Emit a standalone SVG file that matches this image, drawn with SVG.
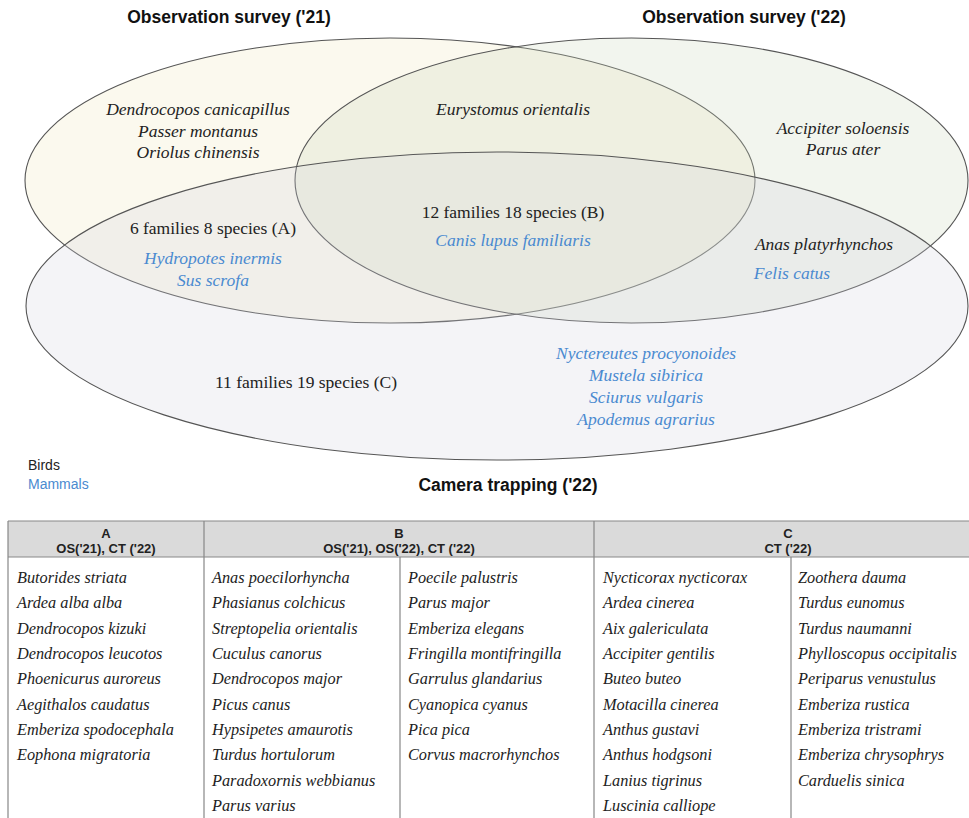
<svg xmlns="http://www.w3.org/2000/svg" width="969" height="818" viewBox="0 0 969 818">
<style>
.ell{stroke:#555;stroke-width:1.1}
.title{font-family:"Liberation Sans",Arial,sans-serif;font-weight:bold;font-size:17.5px;fill:#111;text-anchor:middle}
.sp{font-family:"Liberation Serif","Times New Roman",serif;font-style:italic;font-size:17.5px;fill:#222;text-anchor:middle}
.cnt{font-family:"Liberation Serif","Times New Roman",serif;font-size:17.5px;fill:#222;text-anchor:middle}
.leg{font-family:"Liberation Sans",Arial,sans-serif;font-size:14px;fill:#222}
.mam{fill:#4a8ad0}
.th{font-family:"Liberation Sans",Arial,sans-serif;font-weight:bold;font-size:13px;fill:#222;text-anchor:middle}
.td{font-family:"Liberation Serif","Times New Roman",serif;font-style:italic;font-size:16.3px;fill:#222}
.grid{stroke:#888;stroke-width:1.2;fill:none}
</style>
<rect width="969" height="818" fill="#fff"/>
<g id="venn">
  <g id="os21"><ellipse class="ell" cx="390" cy="180.5" rx="365" ry="142.5" fill="#efe7bb" fill-opacity="0.25"/></g>
  <g id="os22"><ellipse class="ell" cx="631.5" cy="180.5" rx="336.5" ry="142.5" fill="#cbd7bb" fill-opacity="0.25"/></g>
  <g id="ct22"><ellipse class="ell" cx="497" cy="306" rx="471" ry="154" fill="#d3d3df" fill-opacity="0.25"/></g>
</g>
<g id="titles">
  <text class="title" x="229" y="23">Observation survey ('21)</text>
  <text class="title" x="744" y="23">Observation survey ('22)</text>
  <text class="title" x="508" y="491">Camera trapping ('22)</text>
</g>
<g id="labels">
  <text class="sp" x="198" y="115">Dendrocopos canicapillus</text>
  <text class="sp" x="198" y="137">Passer montanus</text>
  <text class="sp" x="198" y="158">Oriolus chinensis</text>
  <text class="sp" x="513" y="115">Eurystomus orientalis</text>
  <text class="sp" x="843" y="134">Accipiter soloensis</text>
  <text class="sp" x="843" y="155">Parus ater</text>
  <text class="cnt" x="213" y="234">6 families 8 species (A)</text>
  <text class="sp mam" x="213" y="264">Hydropotes inermis</text>
  <text class="sp mam" x="213" y="286">Sus scrofa</text>
  <text class="cnt" x="513" y="218">12 families 18 species (B)</text>
  <text class="sp mam" x="513" y="246">Canis lupus familiaris</text>
  <text class="sp" x="824" y="250">Anas platyrhynchos</text>
  <text class="sp mam" x="792" y="279">Felis catus</text>
  <text class="cnt" x="306" y="388">11 families 19 species (C)</text>
  <text class="sp mam" x="646" y="359">Nyctereutes procyonoides</text>
  <text class="sp mam" x="646" y="381">Mustela sibirica</text>
  <text class="sp mam" x="646" y="403">Sciurus vulgaris</text>
  <text class="sp mam" x="646" y="425">Apodemus agrarius</text>
</g>
<g id="legend">
  <text class="leg" x="28" y="470">Birds</text>
  <text class="leg mam" x="28" y="489">Mammals</text>
</g>
<g id="table">
  <rect x="8" y="521" width="980" height="36" fill="#dadada"/>
  <path class="grid" d="M8 521H990M8 557H990M8 521V820M204 521V820M594 521V820M400 557V820M791 557V820"/>
  <text class="th" x="106" y="538">A</text>
  <text class="th" x="106" y="552.5">OS('21), CT ('22)</text>
  <text class="th" x="399" y="538">B</text>
  <text class="th" x="399" y="552.5">OS('21), OS('22), CT ('22)</text>
  <text class="th" x="788" y="538">C</text>
  <text class="th" x="788" y="552.5">CT ('22)</text>
  <g id="colA">
    <text class="td" x="17" y="583">Butorides striata</text>
    <text class="td" x="17" y="608">Ardea alba alba</text>
    <text class="td" x="17" y="633.5">Dendrocopos kizuki</text>
    <text class="td" x="17" y="659">Dendrocopos leucotos</text>
    <text class="td" x="17" y="684">Phoenicurus auroreus</text>
    <text class="td" x="17" y="709.5">Aegithalos caudatus</text>
    <text class="td" x="17" y="735">Emberiza spodocephala</text>
    <text class="td" x="17" y="760">Eophona migratoria</text>
  </g>
  <g id="colB1">
    <text class="td" x="212" y="583">Anas poecilorhyncha</text>
    <text class="td" x="212" y="608">Phasianus colchicus</text>
    <text class="td" x="212" y="633.5">Streptopelia orientalis</text>
    <text class="td" x="212" y="659">Cuculus canorus</text>
    <text class="td" x="212" y="684">Dendrocopos major</text>
    <text class="td" x="212" y="709.5">Picus canus</text>
    <text class="td" x="212" y="735">Hypsipetes amaurotis</text>
    <text class="td" x="212" y="760">Turdus hortulorum</text>
    <text class="td" x="212" y="785.5">Paradoxornis webbianus</text>
    <text class="td" x="212" y="811">Parus varius</text>
  </g>
  <g id="colB2">
    <text class="td" x="408" y="583">Poecile palustris</text>
    <text class="td" x="408" y="608">Parus major</text>
    <text class="td" x="408" y="633.5">Emberiza elegans</text>
    <text class="td" x="408" y="659">Fringilla montifringilla</text>
    <text class="td" x="408" y="684">Garrulus glandarius</text>
    <text class="td" x="408" y="709.5">Cyanopica cyanus</text>
    <text class="td" x="408" y="735">Pica pica</text>
    <text class="td" x="408" y="760">Corvus macrorhynchos</text>
  </g>
  <g id="colC1">
    <text class="td" x="603" y="583">Nycticorax nycticorax</text>
    <text class="td" x="603" y="608">Ardea cinerea</text>
    <text class="td" x="603" y="633.5">Aix galericulata</text>
    <text class="td" x="603" y="659">Accipiter gentilis</text>
    <text class="td" x="603" y="684">Buteo buteo</text>
    <text class="td" x="603" y="709.5">Motacilla cinerea</text>
    <text class="td" x="603" y="735">Anthus gustavi</text>
    <text class="td" x="603" y="760">Anthus hodgsoni</text>
    <text class="td" x="603" y="785.5">Lanius tigrinus</text>
    <text class="td" x="603" y="811">Luscinia calliope</text>
  </g>
  <g id="colC2">
    <text class="td" x="798" y="583">Zoothera dauma</text>
    <text class="td" x="798" y="608">Turdus eunomus</text>
    <text class="td" x="798" y="633.5">Turdus naumanni</text>
    <text class="td" x="798" y="659">Phylloscopus occipitalis</text>
    <text class="td" x="798" y="684">Periparus venustulus</text>
    <text class="td" x="798" y="709.5">Emberiza rustica</text>
    <text class="td" x="798" y="735">Emberiza tristrami</text>
    <text class="td" x="798" y="760">Emberiza chrysophrys</text>
    <text class="td" x="798" y="785.5">Carduelis sinica</text>
  </g>
</g>
</svg>
